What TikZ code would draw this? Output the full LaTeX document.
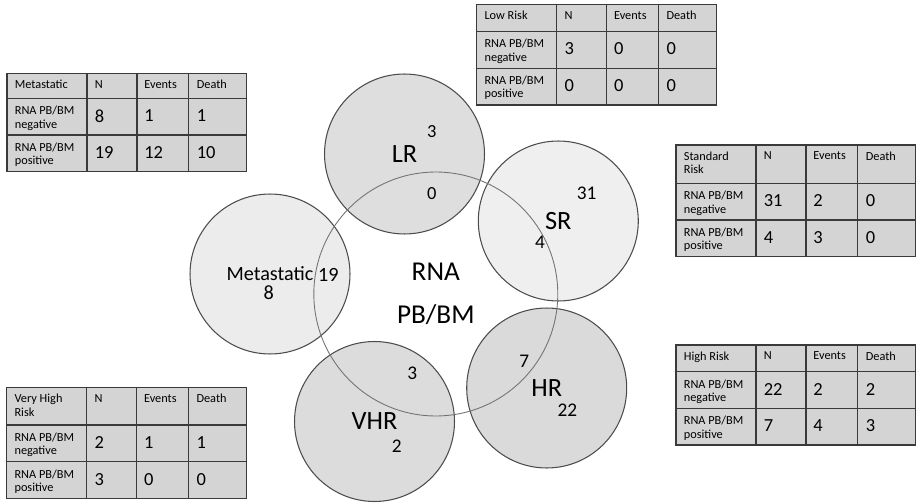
\documentclass[tikz,border=0pt]{standalone}
\usepackage{fontspec}
\setmainfont{Carlito}
\usetikzlibrary{positioning}

\definecolor{lrfill}{HTML}{DEDEDE}
\definecolor{srfill}{HTML}{EFEFEF}
\definecolor{metfill}{HTML}{ECECEC}
\definecolor{hrfill}{HTML}{DADADA}
\definecolor{vhrfill}{HTML}{DCDCDC}
\definecolor{tablefill}{HTML}{D4D4D4}
\definecolor{tableline}{HTML}{3A3A3A}

\tikzset{
  riskcircle/.style={circle, draw=black!70, line width=0.6pt, minimum size=3.2cm,
    inner sep=0pt, font=\fontsize{15}{17}\selectfont},
  rnacircle/.style={circle, draw=black!55, line width=0.5pt, minimum size=4.88cm,
    inner sep=0pt, align=center, font=\fontsize{15.5}{24.4}\selectfont},
  count/.style={inner sep=0pt, font=\fontsize{11}{13}\selectfont},
  headtext/.style={anchor=north west, inner sep=0pt, align=left,
    font=\fontsize{7}{7.6}\selectfont},
  celltext/.style={anchor=north west, inner sep=0pt, font=\fontsize{10.5}{12}\selectfont},
  gridline/.style={draw=tableline, line width=0.75pt},
}

% #1 name, #2 top left corner, #3 header height, #4 header, #5 rows
\newcommand{\risktable}[5]{%
  \begin{scope}[shift={#2}]
    \fill[tablefill] (0,0) rectangle (239.5,#3+73.4);
    \node[headtext] (#1-head) at (7.5,6.5) {#4};
    \node[headtext] (#1-n) at (87.5,6.5) {N};
    \node[headtext] (#1-ev) at (137,6.5) {Events};
    \node[headtext] (#1-d) at (189.5,6.5) {Death};
    \foreach \sign/\nn/\ee/\dd [count=\r] in {#5} {
      \pgfmathsetmacro\rowtop{#3+(\r-1)*36.7}
      \node[headtext] (#1-lab\r) at (7.5,\rowtop+7.5) {RNA PB/BM\\\sign};
      \node[celltext] (#1-n\r) at (87.5,\rowtop+11) {\nn};
      \node[celltext] (#1-ev\r) at (137,\rowtop+11) {\ee};
      \node[celltext] (#1-d\r) at (189.5,\rowtop+11) {\dd};
    }
    \draw[gridline] (0,0) rectangle (239.5,#3+73.4);
    \foreach \cx in {80,130,181.7}
      \draw[gridline] (\cx,0) -- (\cx,#3+73.4);
    \foreach \ry in {0,36.7}
      \draw[gridline] (0,#3+\ry) -- (239.5,#3+\ry);
  \end{scope}}

\begin{document}
\begin{tikzpicture}[x=0.02cm, y=-0.02cm]
  \useasboundingbox (0,0) rectangle (916,503);

  % tables
  \risktable{met}{(7,73.3)}{25}{Metastatic}{negative/8/1/1, positive/19/12/10}
  \risktable{low}{(476.7,4.5)}{27}{Low Risk}{negative/3/0/0, positive/0/0/0}
  \risktable{std}{(676,145)}{38.3}{Standard\\Risk}{negative/31/2/0, positive/4/3/0}
  \risktable{high}{(676,345)}{26.7}{High Risk}{negative/22/2/2, positive/7/4/3}
  \risktable{vhigh}{(6.7,387.3)}{37.7}{Very High\\Risk}{negative/2/1/1, positive/3/0/0}

  % risk groups
  \node[riskcircle, fill=lrfill] (lr) at (404.5,154) {LR};
  \node[riskcircle, fill=srfill] (sr) at (558.3,221) {SR};
  \node[riskcircle, fill=metfill, font=\fontsize{11.5}{13}\selectfont] (met) at (270,274) {Metastatic};
  \node[riskcircle, fill=vhrfill] (vhr) at (374.5,421.5) {VHR};
  \node[riskcircle, fill=hrfill] (hr) at (546.7,388) {HR};

  % RNA PB/BM circle on top
  \node[rnacircle] (rna) at (435.8,294) {RNA\\PB/BM};

  % counts
  \node[count, font=\fontsize{10.5}{12}\selectfont] (lrneg) at (431.7,131.7) {3};
  \node[count, font=\fontsize{10.5}{12}\selectfont] (lrpos) at (431.7,194) {0};
  \node[count] (srneg) at (586.7,193.3) {31};
  \node[count] (srpos) at (540,242.7) {4};
  \node[count, font=\fontsize{11.5}{13}\selectfont] (metneg) at (268.7,292.3) {8};
  \node[count, font=\fontsize{11.5}{13}\selectfont] (metpos) at (328.3,275) {19};
  \node[count] (vhrneg) at (396.7,446.7) {2};
  \node[count] (vhrpos) at (412.3,373.3) {3};
  \node[count] (hrneg) at (567.3,410) {22};
  \node[count] (hrpos) at (524.3,361.7) {7};
\end{tikzpicture}
\end{document}
